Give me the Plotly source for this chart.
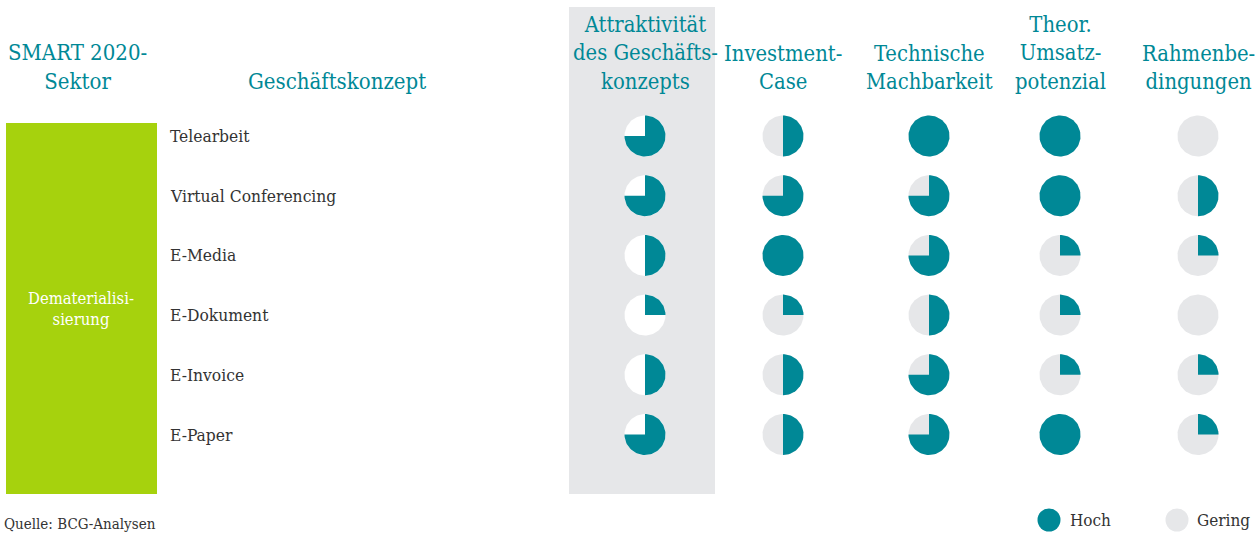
import math
import plotly.graph_objects as go

# ---------------- data ----------------
sector = "Dematerialisierung"
concepts = ["Telearbeit", "Virtual Conferencing", "E-Media", "E-Dokument", "E-Invoice", "E-Paper"]
criteria = ["Attraktivität<br>des Geschäfts-<br>konzepts", "Investment-<br>Case",
            "Technische<br>Machbarkeit", "Theor.<br>Umsatz-<br>potenzial", "Rahmenbe-<br>dingungen"]
# Harvey-ball values in quarters (0..4)
attraktivitaet = [3, 3, 2, 1, 2, 3]
investment_case = [2, 3, 4, 1, 2, 2]
technische_machbarkeit = [4, 3, 3, 2, 3, 3]
umsatzpotenzial = [4, 4, 1, 1, 1, 4]
rahmenbedingungen = [0, 2, 1, 0, 1, 1]
series = [attraktivitaet, investment_case, technische_machbarkeit, umsatzpotenzial, rahmenbedingungen]
legend_labels = ["Hoch", "Gering"]
source = "Quelle: BCG-Analysen"

# ---------------- layout / style ----------------
W, H = 1260, 536
TEAL = "#008896"
LGRAY = "#e6e7e9"
GREEN = "#a6d20d"
TXT = "#333333"
HFONT = "DejaVu Serif Condensed"
col_pos = [645, 783, 929, 1060, 1198]
row0, row_step = 136, 59.7
R = 20.5

fig = go.Figure()

def circle_pts(cx, cy, r, n=90):
    xs, ys = [], []
    for k in range(n + 1):
        t = 2 * math.pi * k / n
        xs.append(cx + r * math.sin(t)); ys.append(cy - r * math.cos(t))
    return xs, ys

def wedge_pts(cx, cy, r, frac, n=90):
    xs, ys = [cx], [cy]
    m = max(2, int(n * frac))
    for k in range(m + 1):
        t = 2 * math.pi * frac * k / m
        xs.append(cx + r * math.sin(t)); ys.append(cy - r * math.cos(t))
    xs.append(cx); ys.append(cy)
    return xs, ys

# highlighted first column background
fig.add_shape(type="rect", x0=569, x1=715, y0=7, y1=494, fillcolor=LGRAY, line_width=0, layer="below")
# sector box
fig.add_shape(type="rect", x0=6, x1=157, y0=123, y1=494, fillcolor=GREEN, line_width=0, layer="below")

for ci, vals in enumerate(series):
    bg = "#ffffff" if ci == 0 else LGRAY
    for ri, v in enumerate(vals):
        cx, cy = col_pos[ci], row0 + ri * row_step
        xs, ys = circle_pts(cx, cy, R)
        fig.add_trace(go.Scatter(x=xs, y=ys, fill="toself", fillcolor=bg, mode="lines",
                                 line=dict(width=0, color=bg), hoverinfo="skip", showlegend=False))
        if v >= 4:
            xs, ys = circle_pts(cx, cy, R)
        elif v > 0:
            xs, ys = wedge_pts(cx, cy, R, v / 4)
        else:
            continue
        fig.add_trace(go.Scatter(x=xs, y=ys, fill="toself", fillcolor=TEAL, mode="lines",
                                 line=dict(width=0, color=TEAL),
                                 hovertext=f"{concepts[ri]}: {v}/4", hoverinfo="text", showlegend=False))

# legend markers
fig.add_trace(go.Scatter(x=[1049, 1177], y=[520, 520], mode="markers",
                         marker=dict(size=23, color=[TEAL, LGRAY]), hoverinfo="skip", showlegend=False))

ann = []
# row labels
for ri, c in enumerate(concepts):
    ann.append(dict(x=168, y=row0 + ri * row_step, text=c, xanchor="left", yanchor="middle",
                    font=dict(family=HFONT, size=17.3, color=TXT)))
# column headers
for ci, c in enumerate(criteria):
    ann.append(dict(x=col_pos[ci], y=96, text=c, xanchor="center", yanchor="bottom",
                    font=dict(family=HFONT, size=21.8, color=TEAL)))
ann.append(dict(x=77, y=96, text="SMART 2020-<br>Sektor", xanchor="center", yanchor="bottom",
                font=dict(family=HFONT, size=22, color=TEAL)))
ann.append(dict(x=337, y=96, text="Geschäftskonzept", xanchor="center", yanchor="bottom",
                font=dict(family=HFONT, size=22, color=TEAL)))
ann.append(dict(x=81, y=309, text="Dematerialisi-<br>sierung", xanchor="center", yanchor="middle",
                font=dict(family=HFONT, size=16.5, color="#ffffff")))
ann.append(dict(x=2, y=524, text=source, xanchor="left", yanchor="middle",
                font=dict(family=HFONT, size=15, color=TXT)))
ann.append(dict(x=1068, y=520, text=legend_labels[0], xanchor="left", yanchor="middle",
                font=dict(family=HFONT, size=17, color=TXT)))
ann.append(dict(x=1195, y=520, text=legend_labels[1], xanchor="left", yanchor="middle",
                font=dict(family=HFONT, size=17, color=TXT)))
for a in ann:
    a.update(xref="x", yref="y", showarrow=False)

fig.update_layout(width=W, height=H, margin=dict(l=0, r=0, t=0, b=0),
                  paper_bgcolor="white", plot_bgcolor="white", annotations=ann,
                  xaxis=dict(range=[0, W], visible=False, fixedrange=True),
                  yaxis=dict(range=[H, 0], visible=False, fixedrange=True))
fig.write_html("out.html", config={"displayModeBar": False},
               post_script="document.body.style.margin='0';document.body.style.overflow='hidden';")
